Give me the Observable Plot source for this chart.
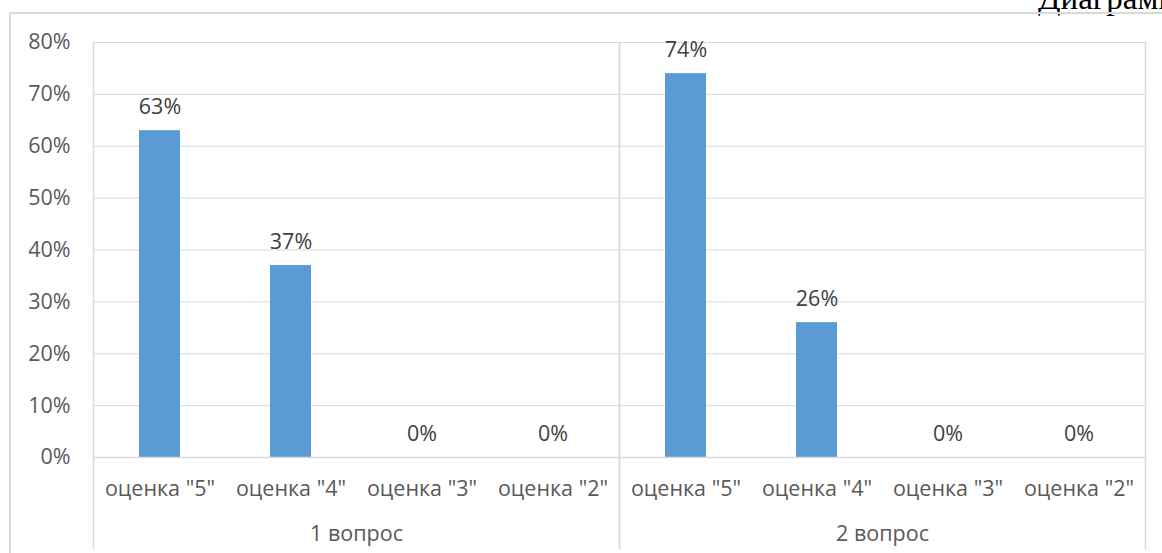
<!DOCTYPE html>
<html>
<head>
<meta charset="utf-8">
<script src="https://cdn.jsdelivr.net/npm/d3@7"></script>
<script src="https://cdn.jsdelivr.net/npm/@observablehq/plot@0.6"></script>
<style>
  body { margin: 0; background: #fff; width: 1162px; height: 553px; overflow: hidden; position: relative; }
  #border { position: absolute; left: 9px; top: 12px; width: 1200px; height: 600px; border-left: 2px solid #d9d9d9; border-top: 2px solid #d9d9d9; }
  #doc-title { position: absolute; left: 1038px; top: -18px; font-family: "Liberation Serif", "DejaVu Serif", serif; font-size: 33px; line-height: 33px; color: #000; white-space: nowrap; }
  #chart { position: absolute; left: 0; top: 0; }
</style>
</head>
<body>
<div id="doc-title">Диаграмма</div>
<div id="border"></div>
<div id="chart"></div>
<script>
const groups = ["1 вопрос", "2 вопрос"];
const grades = ['оценка "5"', 'оценка "4"', 'оценка "3"', 'оценка "2"'];
const q1Values = [63, 37, 0, 0];
const q2Values = [74, 26, 0, 0];
const yTicks = [0, 10, 20, 30, 40, 50, 60, 70, 80];

const series = [q1Values, q2Values];
const data = [];
groups.forEach((g, i) => grades.forEach((gr, j) => data.push({group: g, grade: gr, value: series[i][j]})));

const plot = Plot.plot({
  width: 1162,
  height: 553,
  marginLeft: 92,
  marginRight: 17,
  marginTop: 42,
  marginBottom: 96,
  style: {fontFamily: "'Open Sans', sans-serif", fontSize: "21.5px", color: "#595959", background: "transparent"},
  fx: {domain: groups, padding: 0, axis: null},
  x: {domain: grades, paddingInner: 0.69, paddingOuter: 0.345, axis: null},
  y: {domain: [0, 80], axis: null},
  marks: [
    Plot.gridY(yTicks, {stroke: "#d9d9d9", strokeOpacity: 1}),
    Plot.barY(data, {fx: "group", x: "grade", y: "value", fill: "#5B9BD5"}),
    Plot.ruleY([0], {stroke: "#d9d9d9", strokeWidth: 1.5}),
    Plot.frame({anchor: "left", insetBottom: -91, stroke: "#d9d9d9", strokeWidth: 1.5}),
    Plot.frame({anchor: "right", insetBottom: -91, stroke: "#d9d9d9", strokeWidth: 1.5}),
    Plot.text(data, {fx: "group", x: "grade", y: "value", text: d => d.value + "%", lineAnchor: "bottom", dy: -17, fill: "#404040"}),
    Plot.axisX({tickSize: 0, tickPadding: 23, fill: "#595959", label: null}),
    Plot.axisY({ticks: yTicks, tickSize: 0, tickPadding: 23, tickFormat: d => d + "%", fill: "#595959", label: null}),
    Plot.text(groups, {fx: d => d, text: d => d, frameAnchor: "bottom", dy: 83, fill: "#595959"})
  ]
});
document.getElementById("chart").appendChild(plot);
</script>
</body>
</html>
